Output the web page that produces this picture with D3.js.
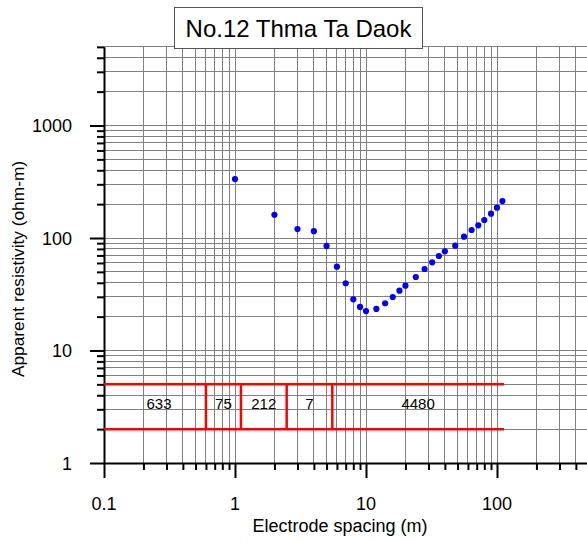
<!DOCTYPE html>
<html>
<head>
<meta charset="utf-8">
<script src="https://cdn.jsdelivr.net/npm/d3@7"></script>
<style>
  html, body { margin: 0; padding: 0; background: #fff; }
  svg { display: block; font-family: "Liberation Sans", Arial, sans-serif; }
</style>
</head>
<body>
<svg id="chart" width="587" height="542"></svg>
<script>
// Sounding curve: electrode spacing (m) and apparent resistivity (ohm-m)
const spacing = [1, 2, 3, 4, 5, 6, 7, 8, 9, 10, 12, 14, 16, 18, 20, 24, 28, 32, 36, 40, 48, 56, 64, 72, 80, 90, 100, 110];
const resistivity = [334, 161, 120, 115, 85, 55.6, 39.6, 28.5, 24.4, 22.4, 23.4, 26.3, 29.9, 34, 37.7, 45, 53, 60.8, 69.2, 76.2, 85.5, 102.7, 117.8, 129.7, 144.5, 164.5, 186, 213];

// Interpreted layer model: boundaries (m) and layer resistivities (ohm-m)
const layerBounds = [0.6, 1.11, 2.48, 5.53];
const layerRes = [633, 75, 212, 7, 4480];
const modelExtent = [0.1, 113];
const modelBand = [2, 5];

// Axis ticks
const xTickLabels = [0.1, 1, 10, 100];
const yTickLabels = [1, 10, 100, 1000];
const xDomain = [0.1, 500];
const yDomain = [1, 5000];

const svg = d3.select("#chart");
const plotLeft = 104, plotBottom = 463, decX = 131, decY = 112.5;

const x = d3.scaleLog().domain(xDomain)
  .range([plotLeft, plotLeft + decX * Math.log10(xDomain[1] / xDomain[0])]);
const y = d3.scaleLog().domain(yDomain)
  .range([plotBottom, plotBottom - decY * Math.log10(yDomain[1] / yDomain[0])]);

const plotTop = y(yDomain[1]), plotRight = x(xDomain[1]);

// All 1..9 multiples within a log domain
function logSteps(dom) {
  const out = [];
  for (let p = Math.floor(Math.log10(dom[0])); p <= Math.ceil(Math.log10(dom[1])); p++) {
    for (let m = 1; m <= 9; m++) {
      const v = +(m * Math.pow(10, p)).toPrecision(6);
      if (v >= dom[0] * 0.9999 && v <= dom[1] * 1.0001) out.push(v);
    }
  }
  return out;
}
const xSteps = logSteps(xDomain);
const ySteps = logSteps(yDomain);
const isMajor = v => Math.abs(Math.log10(v) - Math.round(Math.log10(v))) < 1e-6;

// Grid
const grid = svg.append("g").attr("stroke", "#808080").attr("stroke-width", 1).attr("shape-rendering", "crispEdges");
grid.selectAll("line.v").data(xSteps).join("line").attr("class", "v")
  .attr("x1", d => x(d)).attr("x2", d => x(d)).attr("y1", plotTop).attr("y2", plotBottom);
grid.selectAll("line.h").data(ySteps).join("line").attr("class", "h")
  .attr("x1", plotLeft).attr("x2", plotRight).attr("y1", d => y(d)).attr("y2", d => y(d));

// Axes
const xAxis = d3.axisBottom(x).tickValues(xSteps)
  .tickSize(7).tickSizeOuter(0).tickFormat("");
const yAxis = d3.axisLeft(y).tickValues(ySteps)
  .tickSize(7).tickSizeOuter(0).tickFormat("");

const gx = svg.append("g").attr("transform", `translate(0,${plotBottom})`).call(xAxis);
gx.select(".domain").attr("stroke", "#000").attr("stroke-width", 2);
gx.selectAll(".tick line").attr("stroke", "#000").attr("stroke-width", 2)
  .attr("y2", d => isMajor(d) ? 15 : 7);

const gy = svg.append("g").attr("transform", `translate(${plotLeft},0)`).call(yAxis);
gy.select(".domain").attr("stroke", "#000").attr("stroke-width", 2);
gy.selectAll(".tick line").attr("stroke", "#000").attr("stroke-width", 2)
  .attr("x2", d => isMajor(d) ? -14 : -7);

// Tick labels
svg.append("g").selectAll("text").data(xTickLabels).join("text")
  .attr("x", d => x(d)).attr("y", 510).attr("text-anchor", "middle")
  .attr("font-size", 18).text(d => d);
svg.append("g").selectAll("text").data(yTickLabels).join("text")
  .attr("x", 72).attr("y", d => y(d) + 6.5).attr("text-anchor", "end")
  .attr("font-size", 18).text(d => d);

// Axis titles
svg.append("text").attr("x", 340).attr("y", 532).attr("text-anchor", "middle")
  .attr("font-size", 18).text("Electrode spacing (m)");
svg.append("text").attr("transform", "translate(24,269) rotate(-90)")
  .attr("text-anchor", "middle").attr("font-size", 17.3).text("Apparent resistivity (ohm-m)");

// Layer model
const model = svg.append("g").attr("stroke", "#ff0000").attr("stroke-width", 2.5);
model.selectAll("line.band").data(modelBand).join("line").attr("class", "band")
  .attr("x1", x(modelExtent[0])).attr("x2", x(modelExtent[1]))
  .attr("y1", d => y(d)).attr("y2", d => y(d));
model.selectAll("line.edge").data(layerBounds).join("line").attr("class", "edge")
  .attr("x1", d => x(d)).attr("x2", d => x(d))
  .attr("y1", y(modelBand[1])).attr("y2", y(modelBand[0]));

// Layer resistivity labels, centred within each layer (top layer label
// nudged right, away from the axis)
const edges = [modelExtent[0], ...layerBounds, modelExtent[1]];
const midY = y(Math.sqrt(modelBand[0] * modelBand[1]));
svg.append("g").selectAll("text").data(layerRes).join("text")
  .attr("x", (d, i) => (x(edges[i]) + x(edges[i + 1])) / 2 + (i === 0 ? 4 : 0))
  .attr("y", midY + 2)
  .attr("text-anchor", "middle").attr("font-size", 15).text(d => d);

// Observed data
svg.append("g").selectAll("circle").data(spacing).join("circle")
  .attr("cx", d => x(d)).attr("cy", (d, i) => y(resistivity[i]))
  .attr("r", 3.1).attr("fill", "#0000ff");

// Title
const title = svg.append("g");
title.append("rect").attr("x", 174.5).attr("y", 7.5).attr("width", 248).attr("height", 41)
  .attr("fill", "#fff").attr("stroke", "#555").attr("stroke-width", 1);
title.append("text").attr("x", 298.5).attr("y", 37).attr("text-anchor", "middle")
  .attr("font-size", 24).text("No.12 Thma Ta Daok");
</script>
</body>
</html>
